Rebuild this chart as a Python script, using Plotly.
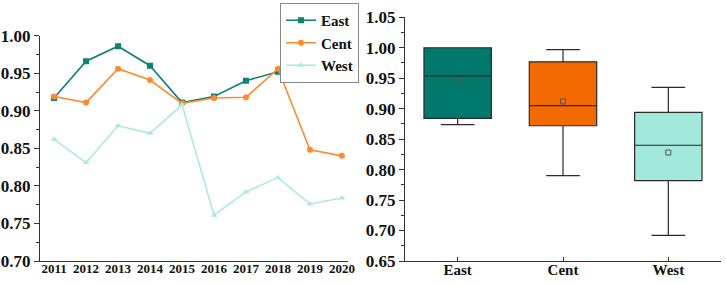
import plotly.graph_objects as go

years = [2011, 2012, 2013, 2014, 2015, 2016, 2017, 2018, 2019, 2020]
east = [0.917, 0.966, 0.986, 0.960, 0.911, 0.919, 0.940, 0.952, 0.952, 0.954]
cent = [0.919, 0.911, 0.956, 0.941, 0.910, 0.917, 0.918, 0.956, 0.848, 0.840]
west = [0.862, 0.831, 0.880, 0.870, 0.908, 0.761, 0.792, 0.811, 0.776, 0.784]

regions = ["East", "Cent", "West"]
box_q1 = [0.884, 0.872, 0.782]
box_median = [0.954, 0.905, 0.840]
box_q3 = [1.000, 0.977, 0.894]
box_low = [0.874, 0.790, 0.692]
box_high = [1.000, 0.997, 0.935]
box_mean = [0.946, 0.912, 0.828]

line_colors = ["#0f8073", "#ff8a2e", "#aee9de"]
box_colors = ["#00786b", "#f26a00", "#a3e9db"]
symbols = ["square", "circle", "triangle-up"]

FONT = "'Times New Roman', 'Liberation Serif', 'DejaVu Serif', serif"
W, H = 726, 285

fig = go.Figure()
for name, vals, c, s in zip(regions, [east, cent, west], line_colors, symbols):
    fig.add_trace(go.Scatter(
        x=years, y=vals, name=name, mode="lines+markers",
        line=dict(color=c, width=1.6),
        marker=dict(symbol=s, size=6, color=c),
        xaxis="x", yaxis="y",
    ))

for i, r in enumerate(regions):
    fig.add_trace(go.Box(
        x=[r], q1=[box_q1[i]], median=[box_median[i]], q3=[box_q3[i]],
        lowerfence=[box_low[i]], upperfence=[box_high[i]],
        fillcolor=box_colors[i], line=dict(color="#2b2b2b", width=1.2),
        whiskerwidth=0.5, width=0.64, showlegend=False,
        xaxis="x2", yaxis="y2", hoverinfo="skip",
    ))
fig.add_trace(go.Scatter(
    x=regions, y=box_mean, mode="markers", showlegend=False,
    marker=dict(symbol="square-open", size=5, color="#555555", line=dict(width=1)),
    xaxis="x2", yaxis="y2",
))

tickfont = dict(family=FONT, size=17, color="#111111", weight="bold")
left_x0, left_x1 = 40 / W, 348 / W
right_x0, right_x1 = 405 / W, 721 / W
ybot = 24 / H

fig.update_layout(
    width=W, height=H,
    margin=dict(l=0, r=0, t=0, b=0, autoexpand=False),
    paper_bgcolor="white", plot_bgcolor="white",
    font=dict(family=FONT, weight="bold"),
    xaxis=dict(
        domain=[left_x0, left_x1], range=[2010.56, 2020.19],
        tickvals=years, ticktext=[str(y) for y in years],
        tickfont=dict(family=FONT, size=13, color="#111111", weight="bold"),
        showline=True, linecolor="#333333", linewidth=1.2,
        showgrid=False, zeroline=False, ticks="", automargin=False,
        ticklabelstandoff=-5, anchor="y",
    ),
    yaxis=dict(
        domain=[ybot, 1 - 35.7 / H], range=[0.70, 1.00],
        tickvals=[0.70, 0.75, 0.80, 0.85, 0.90, 0.95, 1.00],
        tickformat=".2f", tickfont=tickfont,
        showline=True, linecolor="#333333", linewidth=1.2,
        ticks="outside", ticklen=5, tickcolor="#333333",
        minor=dict(dtick=0.025, tick0=0.7, ticks="outside", ticklen=3, tickcolor="#333333"),
        showgrid=False, zeroline=False, automargin=False, anchor="x",
    ),
    xaxis2=dict(
        domain=[right_x0, right_x1], range=[-0.5, 2.5],
        tickfont=dict(family=FONT, size=15, color="#111111", weight="bold"),
        showline=True, linecolor="#333333", linewidth=1.2,
        ticks="inside", ticklen=4, tickcolor="#333333",
        showgrid=False, zeroline=False, automargin=False, anchor="y2",
        ticklabelstandoff=-5,
        categoryorder="array", categoryarray=regions,
    ),
    yaxis2=dict(
        domain=[ybot, 1 - 17.3 / H], range=[0.65, 1.05],
        tickvals=[0.65, 0.70, 0.75, 0.80, 0.85, 0.90, 0.95, 1.00, 1.05],
        tickformat=".2f", tickfont=tickfont,
        showline=True, linecolor="#333333", linewidth=1.2,
        ticks="outside", ticklen=5, tickcolor="#333333",
        minor=dict(dtick=0.025, tick0=0.65, ticks="outside", ticklen=3, tickcolor="#333333"),
        showgrid=False, zeroline=False, automargin=False, anchor="x2",
    ),
    legend=dict(
        x=359 / W, y=1 - 3 / H, xanchor="right", yanchor="top",
        bgcolor="white", bordercolor="#888888", borderwidth=1,
        font=dict(family=FONT, size=15, color="#111111", weight="bold"),
        itemwidth=30, tracegroupgap=0,
    ),
    showlegend=True,
)

fig.write_html("out.html", config={"displayModeBar": False},
               post_script="document.body.style.margin='0';")
